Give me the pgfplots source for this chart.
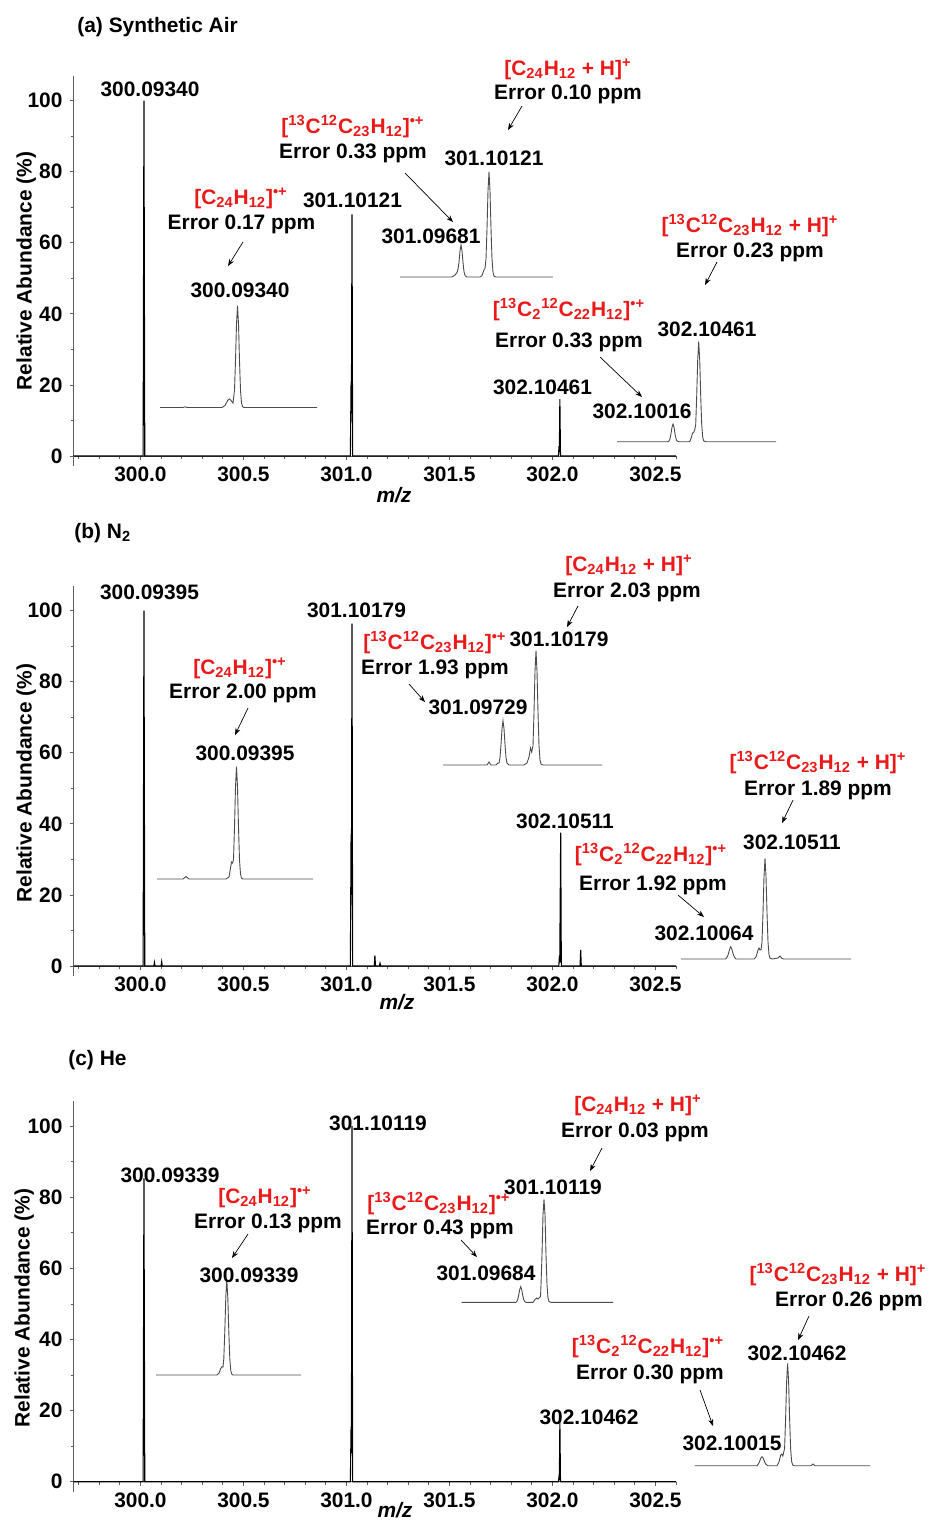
\documentclass[border=0pt]{standalone}
\usepackage{fontspec}
\setmainfont{Liberation Sans}
\usepackage{pgfplots}
\pgfplotsset{compat=1.18}
\usetikzlibrary{arrows.meta}
\definecolor{lblred}{RGB}{235,25,25}
\definecolor{axgray}{RGB}{95,95,95}
\definecolor{insgray}{RGB}{75,75,75}
\newcommand\fs{\fontsize{10.5}{12.5}\selectfont\bfseries}
\newcommand\fA{[C\textsubscript{24}H\textsubscript{12}]\textsuperscript{\textbullet+}}
\newcommand\fB{[\textsuperscript{13}C\textsuperscript{12}C\textsubscript{23}H\textsubscript{12}]\textsuperscript{\textbullet+}}
\newcommand\fC{[C\textsubscript{24}H\textsubscript{12} + H]\textsuperscript{+}}
\newcommand\fD{[\textsuperscript{13}C\textsuperscript{12}C\textsubscript{23}H\textsubscript{12} + H]\textsuperscript{+}}
\newcommand\fE{[\textsuperscript{13}C\textsubscript{2}\textsuperscript{12}C\textsubscript{22}H\textsubscript{12}]\textsuperscript{\textbullet+}}
\pgfplotsset{
  mainax/.style={
    scale only axis, x=103bp, y=1.7775bp,
    xmin=299.675, xmax=302.6, ymin=0, ymax=107,
    axis lines=left,
    axis line style={-, draw=axgray, line width=0.5bp},
    every outer x axis line/.append style={-},
    every outer y axis line/.append style={-},
    xtick={300,300.5,301,301.5,302,302.5},
    xticklabels={300.0,300.5,301.0,301.5,302.0,302.5},
    ytick={0,20,40,60,80,100},
    yticklabels={0,20,40,60,80,100},
    minor xtick={299.7,299.8,...,302.6},
    minor ytick={10,30,50,70,90},
    tick align=outside, major tick length=2bp, minor tick length=1.5bp,
    every tick/.style={axgray, line width=0.4bp},
    ticklabel style={font=\fs},
    anchor=south west, clip=false,
  },
  spec/.style={black, line width=0.55bp, no marks},
}
\tikzset{
  tx/.style={font=\fs, inner sep=0pt, text height=7.5bp, text depth=0pt, anchor=center},
  rd/.style={tx, text=lblred},
  arr/.style={-{Stealth[length=3.5bp,width=2.6bp]}, line width=0.35bp, black},
}
\begin{document}
\begin{tikzpicture}
\useasboundingbox (0,0) rectangle (467.5bp,-760.5bp);
% ---------------- panel (a)
\begin{axis}[mainax, at={(36.75bp,-228bp)}]
\addplot[spec] coordinates {(299.675,0) (300.013,0) (300.017,100) (300.021,0)
 (301.019,0) (301.0225,21) (301.024,12) (301.027,68) (301.030,0)
 (302.029,0) (302.032,2.8) (302.0335,1) (302.036,16) (302.039,0) (302.6,0)};
\draw[axgray, line width=0.5bp] (axis cs:299.675,0) -- (axis cs:299.675,-2.8);
\end{axis}
% ---------------- panel (b)
\begin{axis}[mainax, at={(36.75bp,-483bp)}]
\addplot[spec] coordinates {(299.675,0) (300.013,0) (300.017,100) (300.021,0)
 (300.065,0) (300.068,1) (300.071,0) (300.100,0) (300.103,1.2) (300.106,0)
 (301.019,0) (301.0225,37) (301.024,20) (301.027,96.3) (301.030,0)
 (301.135,0) (301.138,3) (301.141,0) (301.160,0) (301.163,0.8) (301.166,0)
 (302.031,0) (302.034,3) (302.0355,1) (302.040,37.5) (302.043,0)
 (302.134,0) (302.137,4.5) (302.140,0) (302.6,0)};
\draw[axgray, line width=0.5bp] (axis cs:299.675,0) -- (axis cs:299.675,-2.8);
\end{axis}
% ---------------- panel (c)
\begin{axis}[mainax, at={(36.75bp,-740.85bp)}]
\addplot[spec] coordinates {(299.675,0) (300.013,0) (300.017,85.3) (300.021,0)
 (301.019,0) (301.0225,15.5) (301.024,8) (301.027,100) (301.030,0)
 (302.029,0) (302.032,1.5) (302.0335,0.5) (302.036,16.9) (302.039,0) (302.6,0)};
\draw[axgray, line width=0.5bp] (axis cs:299.675,0) -- (axis cs:299.675,-2.8);
\end{axis}
% ---------------- overlay in pixel coordinates
\begin{axis}[hide axis, scale only axis, width=467.5bp, height=760.5bp,
  xmin=0, xmax=935, ymin=0, ymax=1521, y dir=reverse,
  at={(0,0)}, anchor=north west, clip=false]
% insets (a)
\addplot[insgray, line width=0.45bp] coordinates {(160,407.5) (183,407.5) (185,406.8) (187,407.5) (222,407.5) (225,405.5) (228,400) (229.5,399) (231,400.5) (233,403) (234.5,390.2) (235.5,360.7) (236.5,324) (237.5,305.7) (238.5,324) (239.5,360.7) (240.5,390.2) (241.5,403) (242.5,406.7) (244,407.5) (317,407.5)};
\addplot[insgray, line width=0.45bp] coordinates {(400,277) (452,277) (455,275) (457,272.5) (458,269) (459,262.3) (460,250.8) (461,245) (462,250.8) (463,262.3) (464,271.6) (465,275.6) (467,277) (480,277) (482,275.5) (484,270) (485,268.5) (486,259.1) (487,228.6) (488,190.7) (489,171.7) (490,190.7) (491,228.6) (492,259.1) (493,272.4) (494,276.2) (496,277) (553,277)};
\addplot[insgray, line width=0.45bp] coordinates {(617,441.7) (668,441.7) (669,440.9) (670,438.7) (671,433.6) (672,427.2) (673,424) (674,427.2) (675,433.6) (676,438.7) (677,440.9) (679,441.7) (689,441.7) (690,441) (691.5,437) (692.5,433) (693.5,432.5) (694.7,430) (695.7,424.7) (696.7,395.7) (697.7,359.7) (698.7,341.7) (699.7,359.7) (700.7,395.7) (701.7,424.7) (702.7,437.3) (703.7,440.9) (706,441.7) (776,441.7)};
% insets (b)
\addplot[insgray, line width=0.45bp] coordinates {(157,879) (183,879) (186,876.5) (189,879) (226,879) (229,877) (230.5,868) (231.5,862) (232.5,863) (233.5,859.9) (234.5,827.3) (235.5,786.9) (236.5,766.7) (237.5,786.9) (238.5,827.3) (239.5,859.9) (240.5,874.1) (241.5,878.1) (243,879) (313,879)};
\addplot[insgray, line width=0.45bp] coordinates {(443,765) (487,765) (489,762) (491,765) (496,765) (498,763) (499,763.1) (500,757.5) (501,744.6) (502,728.7) (503,720.7) (504,728.7) (505,744.6) (506,757.5) (507,763.1) (509,765) (524,765) (527,763) (529,757) (530.5,748) (531.7,752) (533,745.6) (534,712.4) (535,671.3) (536,650.7) (537,671.3) (538,712.4) (539,745.6) (540,760) (541,764.1) (543,765) (602,765)};
\addplot[insgray, line width=0.45bp] coordinates {(681,959) (725,959) (726,958.5) (727,957.3) (728,955.1) (729,951.5) (730,948.2) (730.7,946.7) (731.5,948.2) (732.5,951.5) (733.5,955.1) (734.5,957.3) (736,959) (754,959) (756,957) (758,950) (759,948) (760,950) (761,950) (762,941.9) (763,912.7) (764,876.4) (765,858.3) (766,876.4) (767,912.7) (768,941.9) (769,954.6) (770,958.2) (772,959) (778,958) (780,956) (782,958.5) (784,959) (851,959)};
% insets (c)
\addplot[insgray, line width=0.45bp] coordinates {(156,1375) (217,1375) (219,1373) (221,1368) (222,1366.7) (223,1367) (223.8,1358.8) (224.8,1331.3) (225.8,1297.1) (226.8,1280) (227.8,1297.1) (228.8,1331.3) (229.8,1358.8) (230.8,1370.8) (231.8,1374.2) (233,1375) (301,1375)};
\addplot[insgray, line width=0.45bp] coordinates {(461.7,1302.3) (516,1302.3) (516.7,1301.6) (517.7,1299.6) (518.7,1295.1) (519.7,1289.5) (520.7,1286.7) (521.7,1289.5) (522.7,1295.1) (523.7,1299.6) (524.7,1301.6) (526,1302.3) (533,1302.3) (535,1299.5) (536.7,1298) (538,1299) (539.5,1297.5) (540.5,1296.5) (541,1284.8) (542,1254.9) (543,1214.8) (544,1199.3) (545,1214.8) (546,1254.9) (547,1284.8) (548,1297.8) (549,1301.5) (551,1302.3) (613,1302.3)};
\addplot[insgray, line width=0.45bp] coordinates {(694.7,1465.7) (757,1465.7) (758,1464.4) (759,1462.8) (760,1460.2) (761,1457.8) (762,1456.7) (763,1457.8) (764,1460.2) (765,1462.8) (766,1464.4) (768,1465.7) (777,1465.7) (779,1462) (780.7,1455) (781.7,1454) (782.8,1456) (784.6,1448.3) (785.6,1418.6) (786.6,1381.7) (787.6,1363.3) (788.6,1381.7) (789.6,1418.6) (790.6,1448.3) (791.6,1461.2) (792.6,1464.9) (794,1465.7) (811,1465.7) (813,1464) (815,1465.7) (870,1465.7)};
% ---- text (a)
\node[tx, anchor=west] at (axis cs:77,25) {(a) Synthetic Air};
\node[tx, rotate=90] at (axis cs:24,271) {Relative Abundance (\%)};
\node[tx] at (axis cs:394,495) {\textit{m/z}};
\node[tx] at (axis cs:150,89) {300.09340};
\node[tx] at (axis cs:352.5,200) {301.10121};
\node[rd] at (axis cs:241,197) {\fA};
\node[tx] at (axis cs:241.5,222) {Error 0.17 ppm};
\draw[arr] (axis cs:243,242) -- (axis cs:228,266);
\node[tx] at (axis cs:240,290) {300.09340};
\node[rd] at (axis cs:353,126) {\fB};
\node[tx] at (axis cs:353,151) {Error 0.33 ppm};
\draw[arr] (axis cs:405,173) -- (axis cs:453,222);
\node[tx] at (axis cs:431,236) {301.09681};
\node[rd] at (axis cs:568,68) {\fC};
\node[tx] at (axis cs:568,92) {Error 0.10 ppm};
\draw[arr] (axis cs:522,106) -- (axis cs:508,130);
\node[tx] at (axis cs:494,158) {301.10121};
\node[rd] at (axis cs:750,225) {\fD};
\node[tx] at (axis cs:750,250) {Error 0.23 ppm};
\draw[arr] (axis cs:717,262) -- (axis cs:705,285);
\node[tx] at (axis cs:707,329) {302.10461};
\node[rd] at (axis cs:569,309) {\fE};
\node[tx] at (axis cs:569,340) {Error 0.33 ppm};
\draw[arr] (axis cs:600,357) -- (axis cs:642,397);
\node[tx] at (axis cs:642,411) {302.10016};
\node[tx] at (axis cs:542.5,387) {302.10461};
% ---- text (b)
\node[tx, anchor=west] at (axis cs:74,531) {(b) N\textsubscript{2}};
\node[tx, rotate=90] at (axis cs:24,783) {Relative Abundance (\%)};
\node[tx] at (axis cs:397,1002) {\textit{m/z}};
\node[tx] at (axis cs:149.5,592) {300.09395};
\node[tx] at (axis cs:356.5,610) {301.10179};
\node[rd] at (axis cs:240,667) {\fA};
\node[tx] at (axis cs:243,691) {Error 2.00 ppm};
\draw[arr] (axis cs:248,708) -- (axis cs:235,735);
\node[tx] at (axis cs:245,753) {300.09395};
\node[rd] at (axis cs:435,642) {\fB};
\node[tx] at (axis cs:435,667) {Error 1.93 ppm};
\draw[arr] (axis cs:409,684) -- (axis cs:425,702);
\node[tx] at (axis cs:478,707) {301.09729};
\node[tx] at (axis cs:559,639) {301.10179};
\node[rd] at (axis cs:629,564) {\fC};
\node[tx] at (axis cs:627,590) {Error 2.03 ppm};
\draw[arr] (axis cs:578,606) -- (axis cs:567,627);
\node[rd] at (axis cs:818,762) {\fD};
\node[tx] at (axis cs:818,788) {Error 1.89 ppm};
\draw[arr] (axis cs:793,800) -- (axis cs:782,823);
\node[tx] at (axis cs:792,842) {302.10511};
\node[rd] at (axis cs:651,854) {\fE};
\node[tx] at (axis cs:653,883) {Error 1.92 ppm};
\draw[arr] (axis cs:678,895) -- (axis cs:704,917);
\node[tx] at (axis cs:704,933) {302.10064};
\node[tx] at (axis cs:565,821) {302.10511};
% ---- text (c)
\node[tx, anchor=west] at (axis cs:68,1058) {(c) He};
\node[tx, rotate=90] at (axis cs:22,1308) {Relative Abundance (\%)};
\node[tx] at (axis cs:395,1510) {\textit{m/z}};
\node[tx] at (axis cs:378,1123) {301.10119};
\node[tx] at (axis cs:170,1175) {300.09339};
\node[rd] at (axis cs:265,1196) {\fA};
\node[tx] at (axis cs:268,1221) {Error 0.13 ppm};
\draw[arr] (axis cs:248,1234) -- (axis cs:232,1258);
\node[tx] at (axis cs:249,1275) {300.09339};
\node[rd] at (axis cs:439,1203) {\fB};
\node[tx] at (axis cs:440,1227) {Error 0.43 ppm};
\draw[arr] (axis cs:461,1240) -- (axis cs:477,1257);
\node[tx] at (axis cs:486,1273) {301.09684};
\node[rd] at (axis cs:638,1104) {\fC};
\node[tx] at (axis cs:635,1130) {Error 0.03 ppm};
\draw[arr] (axis cs:602,1148) -- (axis cs:590,1171);
\node[tx] at (axis cs:553,1187) {301.10119};
\node[rd] at (axis cs:838,1274) {\fD};
\node[tx] at (axis cs:849,1299) {Error 0.26 ppm};
\draw[arr] (axis cs:809,1316) -- (axis cs:798,1340);
\node[tx] at (axis cs:797,1353) {302.10462};
\node[rd] at (axis cs:648,1346) {\fE};
\node[tx] at (axis cs:650,1372) {Error 0.30 ppm};
\draw[arr] (axis cs:700,1390) -- (axis cs:713,1426);
\node[tx] at (axis cs:732,1443) {302.10015};
\node[tx] at (axis cs:589,1417) {302.10462};
\end{axis}
\end{tikzpicture}
\end{document}
